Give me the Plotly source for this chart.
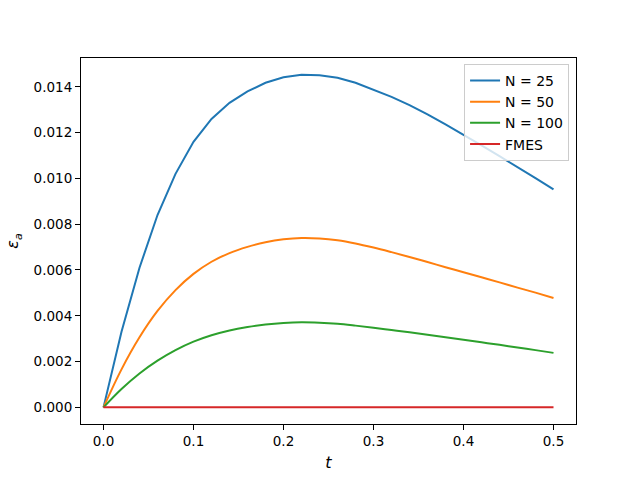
import plotly.graph_objects as go

t_coarse = [round(0.02 * i, 2) for i in range(26)]

eps_n25 = [0.0, 0.0033, 0.0061, 0.0084, 0.0102, 0.0116, 0.0126, 0.0133, 0.0138, 0.01418,
           0.01442, 0.01453, 0.01451, 0.01440, 0.01418, 0.01388, 0.01356, 0.01320, 0.01280,
           0.01236, 0.01191, 0.01144, 0.01097, 0.01050, 0.01001, 0.00952]
eps_n50 = [0.0, 0.00166, 0.00306, 0.00421, 0.00512, 0.00583, 0.00636, 0.00674, 0.00701,
           0.00721, 0.00734, 0.00740, 0.00738, 0.00730, 0.00716, 0.00698, 0.00678, 0.00657,
           0.00635, 0.00612, 0.00590, 0.00568, 0.00546, 0.00523, 0.00501, 0.00478]
eps_n100 = [0.0, 0.00080, 0.00148, 0.00204, 0.00250, 0.00287, 0.00315, 0.00336, 0.00351,
            0.00362, 0.00369, 0.00372, 0.00370, 0.00365, 0.00357, 0.00348, 0.00338, 0.00328,
            0.00317, 0.00306, 0.00295, 0.00284, 0.00273, 0.00261, 0.00250, 0.00238]
eps_fmes = [0.0] * 26

series = [
    ("N = 25", eps_n25, "#1f77b4", "linear"),
    ("N = 50", eps_n50, "#ff7f0e", "spline"),
    ("N = 100", eps_n100, "#2ca02c", "spline"),
    ("FMES", eps_fmes, "#d62728", "linear"),
]

fig = go.Figure()
for name, vals, color, shape in series:
    fig.add_trace(go.Scatter(x=t_coarse, y=vals, mode="lines", name=name,
                             line=dict(color=color, width=2, shape=shape)))

axis_common = dict(showline=True, linecolor="black", linewidth=1.1, mirror=True,
                   ticks="outside", ticklen=5, tickwidth=1.1, tickcolor="black",
                   showgrid=False, zeroline=False,
                   tickfont=dict(family="DejaVu Sans", size=13.5, color="black"))

fig.update_layout(
    width=640, height=480,
    margin=dict(l=80, r=64, t=58, b=53),
    paper_bgcolor="white", plot_bgcolor="white",
    font=dict(family="DejaVu Sans", size=13.5, color="black"),
    xaxis=dict(range=[-0.025, 0.525], tickvals=[0, 0.1, 0.2, 0.3, 0.4, 0.5],
               ticktext=["0.0", "0.1", "0.2", "0.3", "0.4", "0.5"],
               title=dict(text="<i>t</i>", font=dict(size=16), standoff=8),
               **axis_common),
    yaxis=dict(range=[-0.000727, 0.01526],
               tickvals=[0, 0.002, 0.004, 0.006, 0.008, 0.010, 0.012, 0.014],
               tickformat=".3f",
               title=dict(text="<i>ε</i><sub><i>a</i></sub>", font=dict(size=16), standoff=10),
               **axis_common),
    legend=dict(x=0.986, y=0.984, xanchor="right", yanchor="top",
                bgcolor="rgba(255,255,255,0.8)", bordercolor="#cccccc", borderwidth=1,
                font=dict(family="DejaVu Sans", size=14), tracegroupgap=0,
                itemwidth=30),
    showlegend=True,
)

fig.write_html("out.html")
